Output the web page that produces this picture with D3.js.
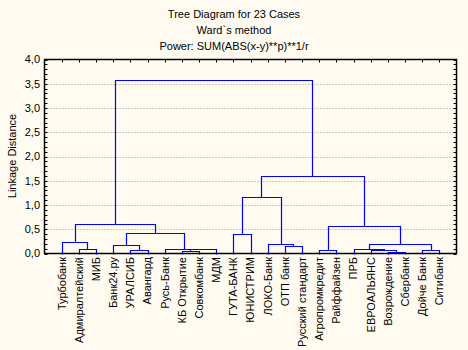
<!DOCTYPE html>
<html>
<head>
<meta charset="utf-8">
<script src="https://cdn.jsdelivr.net/npm/d3@7"></script>
<style>
  html, body { margin: 0; padding: 0; background: #fffbf0; }
  svg { display: block; font-family: "Liberation Sans", Arial, sans-serif; }
</style>
</head>
<body>
<svg id="chart" width="468" height="350"></svg>
<script>
// ---- data ----
const titleLines = ["Tree Diagram for 23 Cases", "Ward`s method", "Power: SUM(ABS(x-y)**p)**1/r"];
const yAxisTitle = "Linkage Distance";
const leafLabels = [
  "Турбобанк", "Адмиралтейский", "МИБ", "Банк24.ру", "УРАЛСИБ", "Авангард",
  "Русь-Банк", "КБ Открытие", "Совкомбанк", "МДМ", "ГУТА-БАНК", "ЮНИСТРИМ",
  "ЛОКО-Банк", "ОТП банк", "Русский стандарт", "Агропромкредит", "Райффайзен",
  "ПРБ", "ЕВРОАЛЬЯНС", "Возрождение", "Сбербанк", "Дойче Банк", "Ситибанк"
];
// merge i creates node 23+i from the two listed nodes (0..22 are leaves)
const mergePairs = [
  [1, 2], [0, 23], [4, 5], [3, 25], [7, 8], [27, 9], [6, 28], [26, 29], [24, 30],
  [10, 11], [13, 14], [12, 33], [32, 34],
  [15, 16], [19, 20], [18, 37], [17, 38], [21, 22], [39, 40], [36, 41], [35, 42],
  [31, 43]
];
const mergeHeights = [
  0.10, 0.245, 0.082, 0.165, 0.055, 0.100, 0.102, 0.415, 0.605,
  0.412, 0.145, 0.205, 1.175,
  0.082, 0.022, 0.078, 0.092, 0.080, 0.198, 0.557, 1.595,
  3.575
];
const yTickValues = [0, 0.5, 1, 1.5, 2, 2.5, 3, 3.5, 4];

// ---- layout ----
const svg = d3.select("#chart");
const L = 44.5, R = 456.5, T = 59.5, B = 253.5;
svg.append("rect").attr("width", 468).attr("height", 350).attr("fill", "#fffbf0");

const x = d3.scalePoint().domain(leafLabels).range([L, R]).padding(1);
const y = d3.scaleLinear().domain([0, 4]).range([B, T]);

// titles
svg.append("g").selectAll("text").data(titleLines).join("text")
  .attr("x", 234).attr("y", (d, i) => 18 + i * 15.8)
  .attr("text-anchor", "middle").attr("font-size", 11).attr("fill", "#000")
  .text(d => d);

// grid
svg.append("g").selectAll("line").data(yTickValues.filter(v => v > 0 && v < 4)).join("line")
  .attr("x1", L).attr("x2", R).attr("y1", d => Math.round(y(d)) + 0.5).attr("y2", d => Math.round(y(d)) + 0.5)
  .attr("stroke", "#999").attr("stroke-dasharray", "1,2");

// minor ticks inside left and right
const minor = d3.range(0, 41).map(i => i / 10);
svg.append("g").selectAll("line").data(minor).join("line")
  .attr("x1", L).attr("x2", L + 3).attr("y1", d => Math.round(y(d)) + 0.5).attr("y2", d => Math.round(y(d)) + 0.5)
  .attr("stroke", "#000");
svg.append("g").selectAll("line").data(minor).join("line")
  .attr("x1", R - 3).attr("x2", R).attr("y1", d => Math.round(y(d)) + 0.5).attr("y2", d => Math.round(y(d)) + 0.5)
  .attr("stroke", "#000");
// top ticks at leaf positions
svg.append("g").selectAll("line").data(leafLabels).join("line")
  .attr("x1", d => Math.round(x(d)) + 0.5).attr("x2", d => Math.round(x(d)) + 0.5)
  .attr("y1", T).attr("y2", T + 3).attr("stroke", "#000");

// y tick labels
const fmt = d3.format(".1f");
svg.append("g").selectAll("text").data(yTickValues).join("text")
  .attr("x", 40).attr("y", d => y(d)).attr("dy", "0.35em")
  .attr("text-anchor", "end").attr("font-size", 11).attr("fill", "#000")
  .text(d => fmt(d).replace(".", ","));

// y axis title
svg.append("text")
  .attr("transform", "translate(16,156) rotate(-90)")
  .attr("text-anchor", "middle").attr("font-size", 11).attr("fill", "#000")
  .text(yAxisTitle);

// x labels
svg.append("g").selectAll("text").data(leafLabels).join("text")
  .attr("transform", d => `translate(${x(d)},257) rotate(-90)`)
  .attr("dy", "0.35em").attr("text-anchor", "end").attr("font-size", 11).attr("fill", "#000")
  .text(d => d);

// dendrogram
const nodeX = leafLabels.map(d => x(d));
const nodeH = leafLabels.map(() => 0);
const segs = [];
mergePairs.forEach(([a, b], i) => {
  const h = mergeHeights[i];
  segs.push({ xa: nodeX[a], ha: nodeH[a], xb: nodeX[b], hb: nodeH[b], h });
  nodeX.push((nodeX[a] + nodeX[b]) / 2);
  nodeH.push(h);
});
const px = v => Math.round(v) + 0.5;
svg.append("g").selectAll("path").data(segs).join("path")
  .attr("d", s => `M${px(s.xa)},${px(y(s.ha))}V${px(y(s.h))}H${px(s.xb)}V${px(y(s.hb))}`)
  .attr("fill", "none").attr("stroke", "#0000ff").attr("stroke-width", 1.2);

// frame
svg.append("rect").attr("x", L).attr("y", T).attr("width", R - L).attr("height", B - T)
  .attr("fill", "none").attr("stroke", "#000").attr("stroke-width", 1.5);
</script>
</body>
</html>
